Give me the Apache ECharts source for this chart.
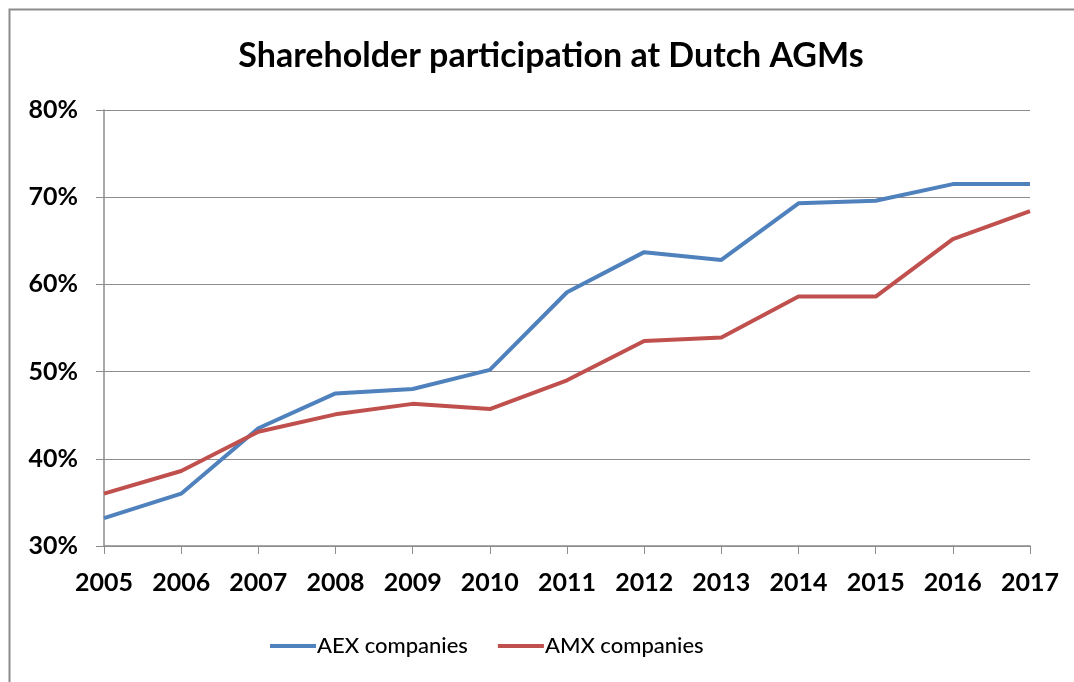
<!DOCTYPE html>
<html>
<head>
<meta charset="utf-8">
<script src="https://cdn.jsdelivr.net/npm/echarts@6/dist/echarts.min.js"></script>
<style>
	html, body { margin: 0; padding: 0; background: #fff; }
	#main { width: 1074px; height: 682px; }
</style>
</head>
<body>
<div id="main"></div>
<script>
var years = ['2005', '2006', '2007', '2008', '2009', '2010', '2011', '2012', '2013', '2014', '2015', '2016', '2017'];
var aex = [33.2, 36.0, 43.5, 47.5, 48.0, 50.2, 59.1, 63.7, 62.8, 69.3, 69.6, 71.5, 71.5];
var amx = [36.0, 38.6, 43.1, 45.1, 46.3, 45.7, 49.0, 53.5, 53.9, 58.6, 58.6, 65.2, 68.4];

var myChart = echarts.init(document.getElementById('main'));
var font = 'Lato, "Open Sans", sans-serif';
var option = {
	animation : false,
	title : {
		text : 'Shareholder participation at Dutch AGMs',
		left : 546,
		textAlign : 'center',
		top : 34,
		textStyle : { fontFamily : font, fontSize : 34, fontWeight : 'bold', color : '#000' }
	},
	graphic : [ {
		type : 'polyline',
		shape : { points : [ [9.5, 682], [9.5, 9.5], [1074, 9.5] ] },
		style : { stroke : '#8c8c8c', lineWidth : 2, fill : null }
	} ],
	legend : {
		top : 630,
		left : 265,
		itemWidth : 46,
		itemHeight : 4,
		itemGap : 30,
		icon : 'rect',
		textStyle : { fontFamily : font, fontSize : 22, fontWeight : 500, color : '#000', padding : [0, 0, 0, -4] },
		data : [ 'AEX companies', 'AMX companies' ]
	},
	grid : { left : 104, right : 44, top : 110, bottom : 136 },
	xAxis : [ {
		type : 'category',
		boundaryGap : false,
		data : years,
		axisLine : { lineStyle : { color : '#8c8c8c', width : 1.5 } },
		axisTick : { alignWithLabel : true, length : 8, lineStyle : { color : '#8c8c8c' } },
		axisLabel : { fontFamily : font, fontSize : 25, fontWeight : 'bold', color : '#000', margin : 24 }
	} ],
	yAxis : [ {
		type : 'value',
		min : 30,
		max : 80,
		interval : 10,
		axisLine : { show : true, lineStyle : { color : '#8c8c8c', width : 1.5 } },
		axisTick : { show : true, length : 8, lineStyle : { color : '#8c8c8c' } },
		splitLine : { lineStyle : { color : '#8c8c8c', width : 1 } },
		axisLabel : { fontFamily : font, fontSize : 25, fontWeight : 'bold', color : '#000', margin : 26, formatter : '{value}%' }
	} ],
	series : [ {
		name : 'AEX companies',
		type : 'line',
		data : aex,
		symbol : 'none',
		color : '#4F81BD',
		lineStyle : { width : 4, color : '#4F81BD' }
	}, {
		name : 'AMX companies',
		type : 'line',
		data : amx,
		symbol : 'none',
		color : '#C0504D',
		lineStyle : { width : 4, color : '#C0504D' }
	} ]
};
myChart.setOption(option);
</script>
</body>
</html>
